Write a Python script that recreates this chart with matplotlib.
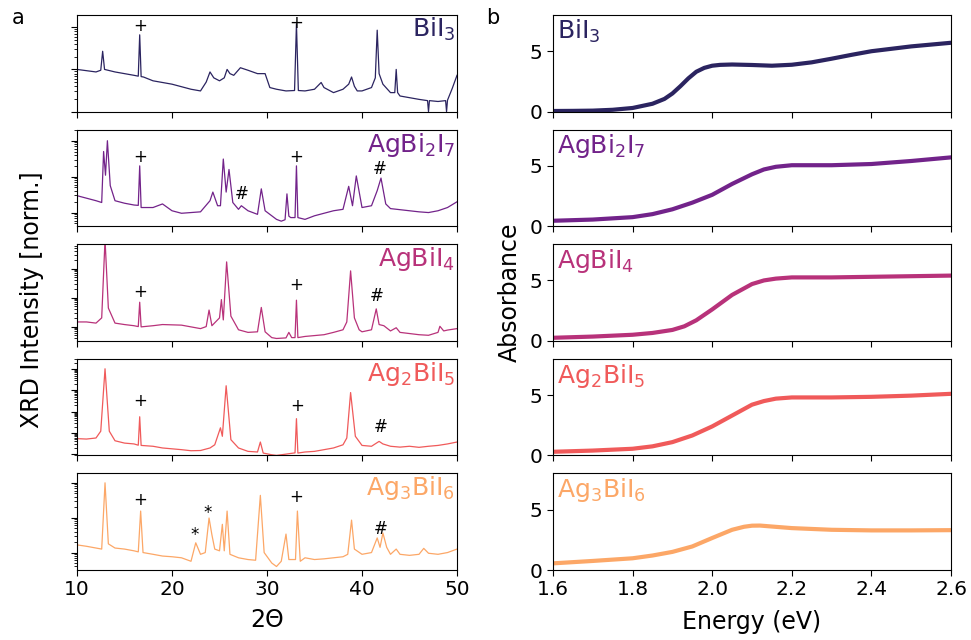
import numpy as np
import matplotlib.pyplot as plt
from matplotlib.ticker import NullFormatter, LogLocator

# sample names and colours
names = ['BiI$_3$', 'AgBi$_2$I$_7$', 'AgBiI$_4$', 'Ag$_2$BiI$_5$', 'Ag$_3$BiI$_6$']
colors = ['#2b2460', '#72238a', '#b8327a', '#f05a5a', '#fca767']

# XRD patterns: 2theta and log10(intensity)
tt_bii3 = [10, 12, 12.5, 12.7, 12.9, 14, 16, 16.45, 16.6, 16.75, 17, 18, 20, 22, 23, 23.6, 24, 24.4, 25, 25.5,
           25.8, 26.1, 26.5, 27.2, 28, 29, 29.8, 30.3, 31, 32, 32.9, 33.1, 33.3, 34, 35, 35.7, 36, 37, 38,
           38.6, 38.9, 39.2, 39.5, 40, 41, 41.4, 41.6, 41.8, 42.2, 43, 43.45, 43.6, 43.75, 44, 45, 46, 46.9,
           47.0, 47.1, 48, 48.8, 48.9, 49.0, 49.5, 50]
lg_bii3 = [1.0, 0.94, 0.98, 1.43, 1.0, 0.94, 0.86, 0.84, 1.82, 0.83, 0.82, 0.73, 0.65, 0.53, 0.49, 0.7, 0.94,
           0.8, 0.73, 0.8, 1.0, 0.9, 0.86, 1.04, 0.98, 0.9, 0.9, 0.57, 0.53, 0.49, 0.5, 2.08, 0.5, 0.49,
           0.53, 0.69, 0.57, 0.45, 0.53, 0.65, 0.82, 0.6, 0.49, 0.49, 0.57, 0.8, 1.93, 0.9, 0.65, 0.45,
           0.45, 1.0, 0.45, 0.37, 0.33, 0.29, 0.26, 0.0, 0.26, 0.24, 0.26, 0.0, 0.27, 0.55, 0.86]

tt_agbi2i7 = [10, 11, 12, 12.6, 12.8, 13.0, 13.2, 13.5, 14, 15, 16, 16.45, 16.6, 16.75, 18, 19, 20, 21, 22,
              23, 24, 24.3, 24.8, 25.1, 25.4, 25.7, 26.0, 26.4, 27.0, 27.3, 28, 29, 29.4, 29.8, 30.5, 31,
              31.5, 31.9, 32.1, 32.3, 32.5, 32.95, 33.1, 33.25, 34, 35, 36, 37, 38, 38.6, 39.0, 39.4, 40,
              41, 41.6, 42.0, 42.5, 43, 44, 45, 46, 47, 48, 49, 50]
lg_agbi2i7 = [0.47, 0.4, 0.33, 0.28, 1.7, 1.04, 2.0, 0.75, 0.33, 0.26, 0.21, 0.2, 1.3, 0.14, 0.14, 0.24, 0.05,
              -0.02, 0.0, 0.02, 0.33, 0.57, 0.19, 0.19, 1.49, 0.57, 1.2, 0.28, 0.09, 0.19, 0.05, -0.05,
              0.66, 0.05, -0.09, -0.19, -0.24, -0.2, 0.52, -0.1, -0.14, -0.14, 1.3, -0.14, -0.19, -0.09,
              -0.02, 0.05, 0.09, 0.73, 0.19, 1.02, 0.14, 0.19, 0.61, 0.96, 0.24, 0.11, 0.08, 0.05, 0.02,
              0.0, 0.05, 0.14, 0.3]

tt_agbii4 = [10, 11, 12, 12.6, 12.95, 13.3, 14, 15, 16, 16.45, 16.6, 16.75, 18, 19, 20, 21, 22, 23, 23.6,
             23.9, 24.2, 25.0, 25.2, 25.4, 25.75, 26.2, 27, 28, 29, 29.4, 29.8, 30.5, 31, 32, 32.3, 32.6,
             32.95, 33.1, 33.25, 34, 35, 36, 37, 38, 38.4, 38.8, 39.2, 39.7, 40, 41, 41.5, 41.8, 42.3, 43,
             43.6, 44, 45, 46, 47, 48, 48.2, 48.6, 49, 50]
lg_agbii4 = [0.16, 0.16, 0.12, 0.3, 3.0, 0.64, 0.12, 0.07, 0.03, 0.0, 0.84, -0.01, 0.03, 0.07, 0.06, 0.05,
             -0.01, -0.07, 0.0, 0.57, 0.03, 0.3, 0.93, 0.23, 2.23, 0.36, -0.11, -0.2, -0.18, 0.66, -0.18,
             -0.38, -0.41, -0.39, -0.2, -0.38, -0.38, 0.91, -0.38, -0.34, -0.31, -0.28, -0.2, -0.11, 0.16,
             1.92, 0.3, -0.11, -0.18, -0.11, 0.61, 0.07, 0.03, -0.15, -0.04, -0.2, -0.24, -0.28, -0.3,
             -0.2, 0.01, -0.15, -0.12, -0.07]

tt_ag2bii5 = [10, 11, 12, 12.5, 12.95, 13.4, 14, 15, 16, 16.45, 16.6, 16.75, 18, 19, 20, 21, 22, 23, 24,
              24.5, 25.1, 25.3, 25.7, 26.2, 27, 28, 29, 29.3, 29.6, 30.5, 31, 32, 32.95, 33.1, 33.25, 34,
              35, 36, 37, 38, 38.4, 38.8, 39.3, 40, 41, 41.8, 42.2, 43, 44, 45, 46, 47, 48, 49, 50]
lg_ag2bii5 = [0.73, 0.71, 0.76, 1.08, 4.02, 1.08, 0.63, 0.52, 0.48, 0.42, 1.76, 0.41, 0.37, 0.29, 0.25,
              0.21, 0.16, 0.17, 0.29, 0.44, 1.24, 0.84, 3.22, 0.68, 0.29, 0.13, 0.1, 0.57, 0.05, -0.03,
              -0.06, 0.0, 0.06, 1.67, 0.05, 0.1, 0.13, 0.21, 0.29, 0.44, 0.76, 2.9, 0.84, 0.41, 0.37, 0.6,
              0.48, 0.37, 0.33, 0.37, 0.32, 0.37, 0.41, 0.48, 0.57]

tt_ag3bii6 = [10, 11, 12, 12.6, 12.95, 13.3, 14, 15, 16, 16.45, 16.7, 16.95, 18, 19, 20, 21, 22, 22.5, 23,
              23.5, 23.9, 24.2, 24.5, 25.0, 25.3, 25.5, 25.8, 26.1, 27, 28, 28.8, 29.3, 29.7, 30.5, 31,
              31.5, 32.0, 32.3, 33, 33.2, 33.5, 34, 35, 36, 37, 38, 38.5, 38.9, 39.2, 40, 41, 41.6, 41.9,
              42.2, 42.6, 43, 43.6, 44, 45, 46, 46.5, 47, 48, 49, 50]
lg_ag3bii6 = [0.22, 0.18, 0.13, 0.1, 2.0, 0.25, 0.13, 0.1, 0.05, 0.02, 1.19, 0.0, -0.05, -0.1, -0.12, -0.15,
              -0.25, 0.28, -0.05, 0.0, 0.99, 0.51, 0.1, 0.05, 0.81, 0.05, 1.19, -0.05, -0.15, -0.2, -0.22,
              1.64, 0.0, -0.3, -0.4, -0.25, 0.53, -0.2, -0.2, 1.19, -0.25, -0.15, -0.2, -0.18, -0.15,
              -0.12, -0.05, 0.93, 0.1, -0.05, 0.0, 0.42, 0.15, 0.56, 0.15, -0.05, 0.1, -0.05, -0.08, -0.05,
              0.12, -0.02, -0.05, 0.0, 0.1]

xrd_tt = [tt_bii3, tt_agbi2i7, tt_agbii4, tt_ag2bii5, tt_ag3bii6]
xrd_lg = [lg_bii3, lg_agbi2i7, lg_agbii4, lg_ag2bii5, lg_ag3bii6]
xrd_ylim = [(0.0, 2.29), (-0.38, 2.31), (-0.49, 2.84), (-0.06, 4.49), (-0.5, 2.27)]

# reflection markers: (symbol, 2theta, log10 intensity)
marks = [
    [('+', 16.6, 2.04), ('+', 33.1, 2.1)],
    [('+', 16.6, 1.56), ('+', 33.1, 1.56), ('#', 27.3, 0.52), ('#', 41.9, 1.22)],
    [('+', 16.6, 1.2), ('+', 33.1, 1.42), ('#', 41.5, 1.04)],
    [('+', 16.6, 2.51), ('+', 33.2, 2.27), ('#', 42.0, 1.27)],
    [('+', 16.6, 1.52), ('+', 33.1, 1.6), ('*', 22.4, 0.5), ('*', 23.8, 1.14), ('#', 42.0, 0.69)],
]

# absorbance spectra
en_bii3 = [1.60, 1.65, 1.70, 1.75, 1.80, 1.85, 1.88, 1.90, 1.92, 1.94, 1.96, 1.98, 2.00, 2.02, 2.05, 2.10,
           2.15, 2.20, 2.25, 2.30, 2.35, 2.40, 2.45, 2.50, 2.55, 2.60]
ab_bii3 = [0.05, 0.06, 0.08, 0.15, 0.3, 0.65, 1.05, 1.5, 2.1, 2.75, 3.3, 3.62, 3.8, 3.87, 3.9, 3.86, 3.8,
           3.88, 4.08, 4.38, 4.7, 5.0, 5.2, 5.4, 5.55, 5.7]
en_agbi2i7 = [1.60, 1.70, 1.80, 1.85, 1.90, 1.95, 2.00, 2.05, 2.10, 2.13, 2.16, 2.20, 2.30, 2.40, 2.50, 2.60]
ab_agbi2i7 = [0.45, 0.55, 0.75, 1.0, 1.4, 1.95, 2.6, 3.5, 4.3, 4.7, 4.92, 5.05, 5.05, 5.15, 5.4, 5.7]
en_agbii4 = [1.60, 1.70, 1.80, 1.85, 1.90, 1.93, 1.96, 2.00, 2.05, 2.10, 2.13, 2.16, 2.20, 2.30, 2.40, 2.50, 2.60]
ab_agbii4 = [0.25, 0.35, 0.5, 0.65, 0.9, 1.2, 1.7, 2.6, 3.8, 4.7, 5.0, 5.15, 5.25, 5.25, 5.3, 5.35, 5.4]
en_ag2bii5 = [1.60, 1.70, 1.80, 1.85, 1.90, 1.95, 2.00, 2.05, 2.10, 2.13, 2.16, 2.20, 2.30, 2.40, 2.50, 2.60]
ab_ag2bii5 = [0.3, 0.4, 0.55, 0.75, 1.1, 1.65, 2.4, 3.3, 4.2, 4.5, 4.7, 4.8, 4.8, 4.85, 4.95, 5.1]
en_ag3bii6 = [1.60, 1.70, 1.80, 1.85, 1.90, 1.95, 2.00, 2.05, 2.08, 2.10, 2.12, 2.15, 2.20, 2.30, 2.40, 2.50, 2.60]
ab_ag3bii6 = [0.55, 0.75, 0.97, 1.2, 1.5, 1.95, 2.65, 3.33, 3.58, 3.67, 3.68, 3.6, 3.47, 3.33, 3.28, 3.28, 3.3]

abs_en = [en_bii3, en_agbi2i7, en_agbii4, en_ag2bii5, en_ag3bii6]
abs_val = [ab_bii3, ab_agbi2i7, ab_agbii4, ab_ag2bii5, ab_ag3bii6]

W, H = 971, 640
fig = plt.figure(figsize=(W / 100, H / 100), dpi=100)

top_px, bot_px, gap_px = 15, 570, 18
h_px = (bot_px - top_px - 4 * gap_px) / 5

for i in range(5):
    y0 = 1 - (top_px + i * (h_px + gap_px) + h_px) / H

    # XRD panel
    ax = fig.add_axes([77 / W, y0, 380 / W, h_px / H])
    ax.plot(xrd_tt[i], 10 ** np.array(xrd_lg[i]), color=colors[i], lw=0.9)
    ax.set_yscale('log')
    ax.set_xlim(10, 50)
    lo, hi = xrd_ylim[i]
    ax.set_ylim(10 ** lo, 10 ** hi)
    ax.yaxis.set_major_locator(LogLocator(base=10, numticks=10))
    ax.yaxis.set_minor_locator(LogLocator(base=10, subs=np.arange(2, 10), numticks=10))
    ax.yaxis.set_major_formatter(NullFormatter())
    ax.yaxis.set_minor_formatter(NullFormatter())
    ax.set_xticks([10, 20, 30, 40, 50])
    ax.tick_params(axis='both', which='major', length=4, labelsize=14.5)
    ax.tick_params(axis='y', which='minor', length=2)
    if i < 4:
        ax.set_xticklabels([])
    for sym, xm, ym in marks[i]:
        ax.text(xm, 10 ** ym, sym, ha='center', va='center', fontsize=12)
    ax.text(0.995, 0.99, names[i], transform=ax.transAxes, ha='right', va='top',
            fontsize=18, color=colors[i])

    # absorbance panel
    ax2 = fig.add_axes([553 / W, y0, 398 / W, h_px / H])
    ax2.plot(abs_en[i], abs_val[i], color=colors[i], lw=3)
    ax2.set_xlim(1.6, 2.6)
    ax2.set_ylim(0, 8)
    ax2.set_yticks([0, 5])
    ax2.set_xticks([1.6, 1.8, 2.0, 2.2, 2.4, 2.6])
    ax2.tick_params(axis='both', length=4, labelsize=14.5)
    if i < 4:
        ax2.set_xticklabels([])
    ax2.text(0.01, 0.97, names[i], transform=ax2.transAxes, ha='left', va='top',
             fontsize=18, color=colors[i])

fig.text(32 / W, 1 - 300 / H, 'XRD Intensity [norm.]', rotation=90, ha='center', va='center', fontsize=17)
fig.text(267 / W, 1 - 620 / H, '2Θ', ha='center', va='center', fontsize=17)
fig.text(510 / W, 1 - 292 / H, 'Absorbance', rotation=90, ha='center', va='center', fontsize=17)
fig.text(752 / W, 1 - 622 / H, 'Energy (eV)', ha='center', va='center', fontsize=17)
fig.text(18 / W, 1 - 18 / H, 'a', ha='center', va='center', fontsize=15)
fig.text(493 / W, 1 - 18 / H, 'b', ha='center', va='center', fontsize=15)

fig.savefig('out.png', dpi=100)
